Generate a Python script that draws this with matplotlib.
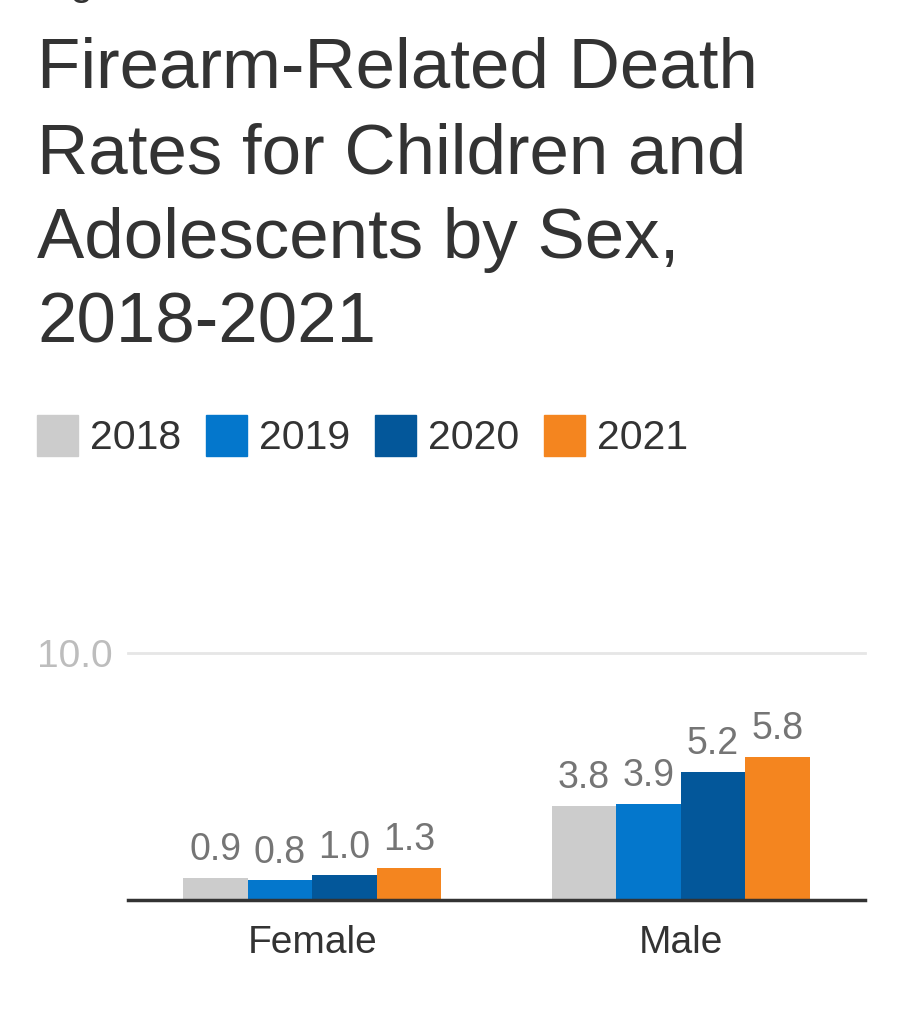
import numpy as np
import matplotlib
matplotlib.use("Agg")
import matplotlib.pyplot as plt
from matplotlib.patches import Patch

plt.rcParams['font.family'] = ['Liberation Sans', 'DejaVu Sans']

# data
groups = ["Female", "Male"]
years = ["2018", "2019", "2020", "2021"]
rates_2018 = [0.9, 3.8]
rates_2019 = [0.8, 3.9]
rates_2020 = [1.0, 5.2]
rates_2021 = [1.3, 5.8]
series = [rates_2018, rates_2019, rates_2020, rates_2021]
colors = ["#cccccc", "#0477cc", "#03579a", "#f4851f"]

title_lines = ["Firearm-Related Death", "Rates for Children and",
               "Adolescents by Sex,", "2018-2021"]

W, H = 907, 1023
fig = plt.figure(figsize=(W / 100, H / 100), dpi=100)

# cut-off caption at the very top
fig.text(37 / W, 1 + 5 / H, "Figure 1", fontsize=29, color="#333333", va="baseline")

# title, one line at a time
baselines = [88, 173, 258, 343]
for line, b in zip(title_lines, baselines):
    fig.text(37 / W, 1 - b / H, line, fontsize=51, color="#333333", va="baseline")

ax = fig.add_axes([128 / W, (H - 900) / H, (865 - 128) / W, (900 - 653) / H])

x = np.arange(len(groups))
bw = 0.175
for i, (vals, c) in enumerate(zip(series, colors)):
    bars = ax.bar(x + (i - 1.5) * bw, vals, width=bw, color=c, label=years[i], zorder=2)
    ax.bar_label(bars, labels=[f"{v:.1f}" for v in vals], padding=7,
                 color="#757575", fontsize=27)

ax.set_xlim(-0.5, 1.5)
ax.set_ylim(0, 10)
ax.set_xticks(x)
ax.set_xticklabels(groups, fontsize=28, color="#333333")
ax.set_yticks([10])
ax.set_yticklabels(["10.0"], fontsize=28, color="#bdbdbd")
ax.tick_params(axis="both", length=0)
ax.tick_params(axis="x", pad=18)
ax.tick_params(axis="y", pad=11)

ax.yaxis.grid(True, color="#e6e6e6", linewidth=2)
for gl in ax.get_ygridlines():
    gl.set_clip_on(False)
ax.set_axisbelow(True)

for s in ["top", "left", "right"]:
    ax.spines[s].set_visible(False)
ax.spines["bottom"].set_color("#333333")
ax.spines["bottom"].set_linewidth(2.5)
ax.spines["bottom"].set_zorder(3)

handles = [Patch(color=c, label=y) for c, y in zip(colors, years)]
fig.legend(handles=handles, loc="center left", bbox_to_anchor=(37 / W, 1 - 436 / H),
           ncol=4, frameon=False, fontsize=29.5, handlelength=1.0, handleheight=1.15,
           handletextpad=0.3, columnspacing=0.6, borderpad=0, borderaxespad=0,
           labelcolor="#333333")

fig.savefig("out.png", dpi=100)
